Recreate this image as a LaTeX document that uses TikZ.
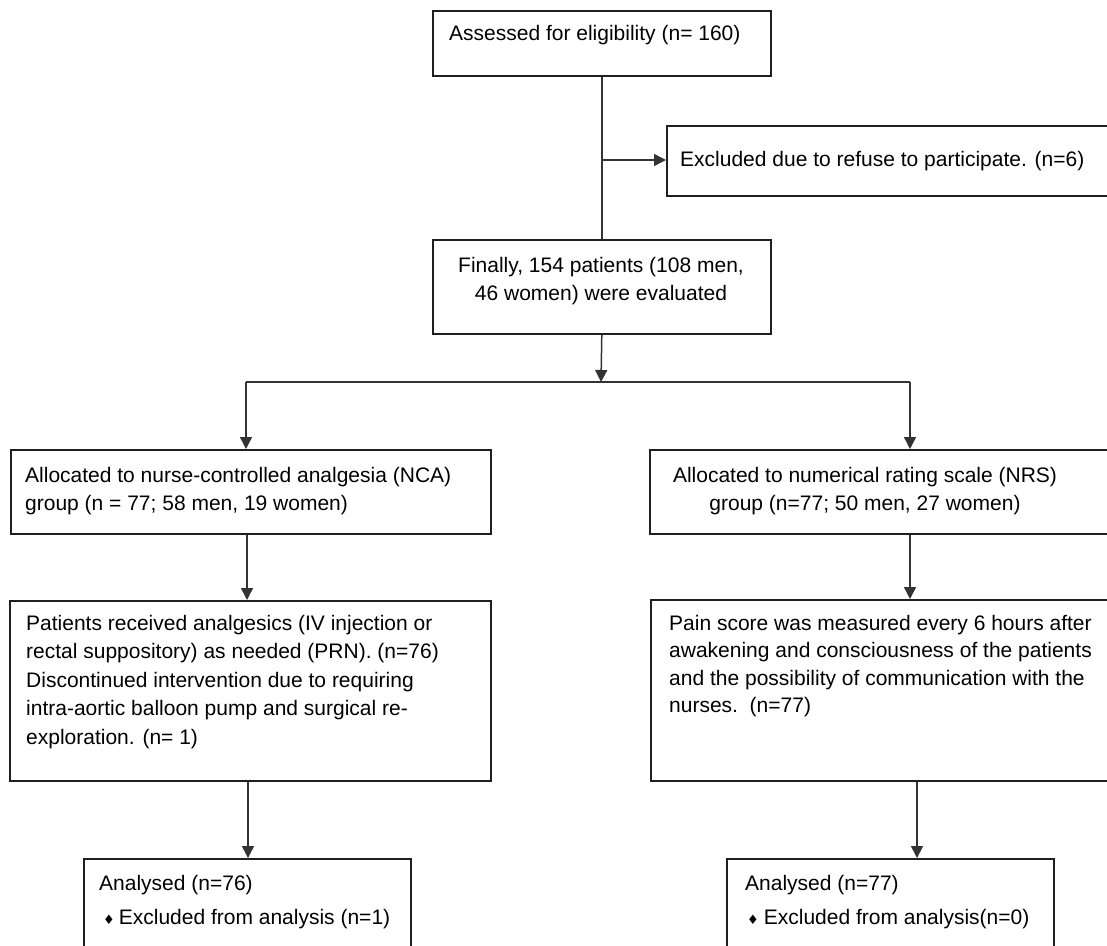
\documentclass[tikz,border=0pt]{standalone}
\usepackage{fontspec}
\setmainfont{Liberation Sans}
\newfontfamily\symfont{DejaVu Sans}
\usetikzlibrary{arrows.meta,calc}
\begin{document}
\begin{tikzpicture}[x=1pt,y=-1pt,
  frame/.style={draw=black!88, line width=1.6pt, inner sep=0pt, anchor=north west},
  txt/.style={inner sep=0pt, anchor=base west, text=black},
  ctxt/.style={inner sep=0pt, anchor=base, text=black},
  link/.style={draw=black!80, line width=1.5pt},
  arr/.style={link, -{Triangle[width=12pt,length=12pt]}, shorten >=0pt}
]
\path[use as bounding box, fill=white] (0,0) rectangle (1107,945);
\clip (0,0) rectangle (1107,945);
\newcommand{\tf}{\fontsize{21}{28.5}\selectfont}

% boxes
\node[frame, minimum width=338pt, minimum height=65pt] (b1) at (432,10) {};
\node[frame, minimum width=460pt, minimum height=70pt] (b2) at (666,125) {};
\node[frame, minimum width=338pt, minimum height=94pt] (b3) at (432,239) {};
\node[frame, minimum width=480pt, minimum height=84pt] (b4) at (10,449) {};
\node[frame, minimum width=470pt, minimum height=84pt] (b5) at (649,449) {};
\node[frame, minimum width=481pt, minimum height=180pt] (b6) at (9,600) {};
\node[frame, minimum width=470pt, minimum height=181pt] (b7) at (650,599) {};
\node[frame, minimum width=327pt, minimum height=110pt] (b8) at (83,858) {};
\node[frame, minimum width=327pt, minimum height=110pt] (b9) at (726,858) {};

% texts
\node[txt] (t1) at (449,40) {\tf Assessed for eligibility (n= 160)};
\node[txt] (t2) at (680,166) {\tf Excluded due to refuse to participate. (n=6)};
\node[ctxt] (t3) at (601,272) {\parbox[t]{330pt}{\centering\tf Finally, 154 patients (108 men,\\ 46 women) were evaluated}};
\node[txt] (t4) at (25,482) {\parbox[t]{470pt}{\raggedright\tf Allocated to nurse-controlled analgesia (NCA)\\ group (n = 77; 58 men, 19 women)}};
\node[ctxt] (t5) at (865,482) {\parbox[t]{440pt}{\centering\tf Allocated to numerical rating scale (NRS)\\ group (n=77; 50 men, 27 women)}};
\node[txt] (t6) at (26,630) {\parbox[t]{470pt}{\raggedright\tf Patients received analgesics (IV injection or\\ rectal suppository) as needed (PRN). (n=76)\\ Discontinued intervention due to requiring\\ intra-aortic balloon pump and surgical re-\\ exploration. (n= 1)}};
\node[txt] (t7) at (669,630) {\parbox[t]{470pt}{\raggedright\fontsize{21}{27.5}\selectfont Pain score was measured every 6 hours after\\ awakening and consciousness of the patients\\ and the possibility of communication with the\\ nurses.\ \ (n=77)}};
\node[txt] (t8) at (99,890) {\parbox[t]{300pt}{\raggedright\fontsize{21}{34}\selectfont Analysed (n=76)\\ \hspace*{4pt}{\symfont\fontsize{13}{13}\selectfont ♦}\hspace{4pt}Excluded from analysis (n=1)}};
\node[txt] (t9) at (745,890) {\parbox[t]{300pt}{\raggedright\fontsize{21}{34}\selectfont Analysed (n=77)\\ \hspace*{2pt}{\symfont\fontsize{13}{13}\selectfont ♦}\hspace{5pt}Excluded from analysis(n=0)}};

% junction points
\coordinate (j1) at (601,160);
\coordinate (sp) at (601,382);
\coordinate (sl) at (246,382);
\coordinate (sr) at (910,382);
\coordinate (cl) at (247,0);
\coordinate (cr) at (910,0);
\coordinate (dl) at (248,0);
\coordinate (dr) at (917,0);

% connectors
\draw[link] (b1.south) -- (b3.north);
\draw[arr] (j1) -- (j1 -| b2.west);
\draw[arr] (b3.south) -- (sp);
\draw[link] (sl) -- (sr);
\draw[arr] (sl) -- (sl |- b4.north);
\draw[arr] (sr) -- (sr |- b5.north);
\draw[arr] (cl |- b4.south) -- (cl |- b6.north);
\draw[arr] (cr |- b5.south) -- (cr |- b7.north);
\draw[arr] (dl |- b6.south) -- (dl |- b8.north);
\draw[arr] (dr |- b7.south) -- (dr |- b9.north);
\end{tikzpicture}
\end{document}
